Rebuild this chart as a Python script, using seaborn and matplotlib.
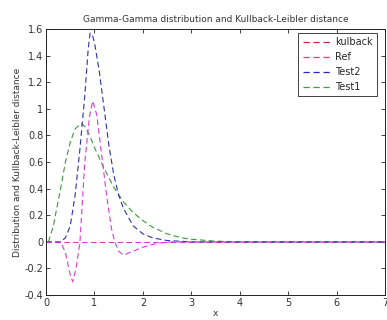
import numpy as np
import pandas as pd
import matplotlib
matplotlib.use('Agg')
import matplotlib.pyplot as plt
from matplotlib.lines import Line2D
import seaborn as sns

# Values
kulback_x = [0, 7]
kulback_y = [0, 0]

ref_x = [0, 0.3, 0.4, 0.5, 0.55, 0.62, 0.7, 0.8, 0.9, 0.965, 1.05, 1.15, 1.25, 1.35, 1.42,
         1.5, 1.6, 1.8, 2.0, 2.3, 2.6, 3.0, 7]
ref_y = [0, 0, -0.08, -0.25, -0.3, -0.2, 0.0, 0.6, 0.95, 1.06, 0.95, 0.65, 0.35, 0.1, 0.0,
         -0.07, -0.1, -0.07, -0.04, -0.01, 0, 0, 0]

test2_x = [0, 0.3, 0.4, 0.5, 0.6, 0.7, 0.8, 0.87, 0.91, 0.96, 1.0, 1.1, 1.2, 1.3, 1.4,
           1.5, 1.6, 1.8, 2.0, 2.2, 2.5, 3.0, 7]
test2_y = [0, 0, 0.03, 0.12, 0.35, 0.7, 1.1, 1.45, 1.57, 1.55, 1.5, 1.28, 1.0, 0.72, 0.5,
           0.35, 0.25, 0.12, 0.06, 0.03, 0.01, 0, 0]

test1_x = [0.05, 0.15, 0.3, 0.4, 0.5, 0.6, 0.72, 0.8, 0.9, 1.0, 1.2, 1.4, 1.6, 1.8, 2.0,
           2.2, 2.5, 2.8, 3.0, 3.5, 4.0, 7]
test1_y = [0, 0.12, 0.4, 0.6, 0.75, 0.85, 0.89, 0.87, 0.8, 0.71, 0.55, 0.41, 0.3, 0.22, 0.16,
           0.11, 0.06, 0.03, 0.02, 0.005, 0, 0]

x_ticks = [0, 1, 2, 3, 4, 5, 6, 7]
y_ticks = [-0.4, -0.2, 0, 0.2, 0.4, 0.6, 0.8, 1, 1.2, 1.4, 1.6]
y_tick_labels = ['-0.4', '-0.2', '0', '0.2', '0.4', '0.6', '0.8', '1', '1.2', '1.4', '1.6']

sns.set_style('ticks', {'xtick.direction': 'in', 'ytick.direction': 'in'})
plt.rcParams['font.family'] = ['DejaVu Sans']

fig = plt.figure(figsize=(3.87, 3.2), dpi=100)
ax = fig.add_axes([0.119, 0.078, 0.876, 0.831])

dash = (5, 3)
lw = 0.8
sns.lineplot(x=kulback_x, y=kulback_y, ax=ax, color='#d63cd6', lw=lw)
sns.lineplot(x=test1_x, y=test1_y, ax=ax, color='#3a9a3a', lw=lw)
sns.lineplot(x=test2_x, y=test2_y, ax=ax, color='#2f2fae', lw=lw)
sns.lineplot(x=ref_x, y=ref_y, ax=ax, color='#d63cd6', lw=lw)
for line in ax.get_lines():
    line.set_dashes(dash)

ax.set_xlim(0, 7)
ax.set_ylim(-0.4, 1.6)
ax.set_xticks(x_ticks)
ax.set_xticklabels([str(t) for t in x_ticks])
ax.set_yticks(y_ticks)
ax.set_yticklabels(y_tick_labels)
ax.tick_params(labelsize=7, length=3, width=0.6, top=True, right=True, colors='#222222',
               labelcolor='#333333', pad=2)
for s in ax.spines.values():
    s.set_linewidth(0.7)
    s.set_color('#222222')

ax.set_title('Gamma-Gamma distribution and Kullback-Leibler distance', fontsize=6.5,
             color='#333333', pad=5)
ax.set_xlabel('x', fontsize=6.5, color='#333333', labelpad=1)
ax.set_ylabel('Distribution and Kullback-Leibler distance', fontsize=6.5, color='#333333',
              labelpad=2)

handles = [Line2D([], [], color=c, lw=0.9, dashes=dash) for c in
           ['#d0204a', '#e03c6e', '#2a2ab4', '#3aa03a']]
leg = ax.legend(handles, ['kulback', 'Ref', 'Test2', 'Test1'], loc='upper right',
                bbox_to_anchor=(0.976, 0.985), borderaxespad=0,
                fontsize=7, frameon=True, fancybox=False, framealpha=1, edgecolor='#222222',
                handlelength=3.0, handletextpad=0.3, labelspacing=0.5, borderpad=0.45)
leg.get_frame().set_linewidth(0.6)

fig.savefig('out.png', dpi=100)
